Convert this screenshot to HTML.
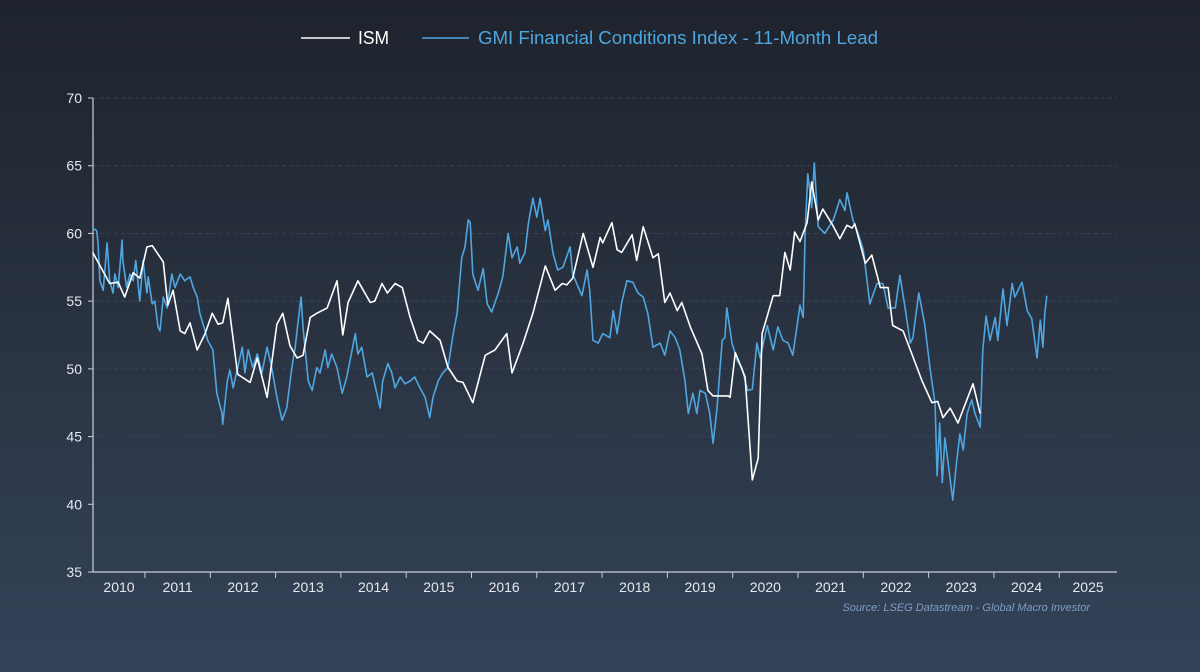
<!DOCTYPE html>
<html><head><meta charset="utf-8"><style>
html,body{margin:0;padding:0;width:1200px;height:672px;overflow:hidden;}
body{background:linear-gradient(to bottom,#1e232d 0%,#28313f 45%,#344359 100%);font-family:"Liberation Sans",sans-serif;}
svg{display:block;}
</style></head><body>
<svg id="chart" width="1200" height="672" xmlns="http://www.w3.org/2000/svg">
<g id="legend">
<g><line x1="301" y1="38" x2="350" y2="38" stroke="#ffffff" stroke-width="1.6"/><text x="358" y="44" fill="#ffffff" font-size="18" textLength="31" lengthAdjust="spacingAndGlyphs">ISM</text></g>
<g><line x1="422" y1="38" x2="469" y2="38" stroke="#4fa6e0" stroke-width="1.6"/><text x="478" y="44" fill="#4fa6e0" font-size="18" textLength="400" lengthAdjust="spacingAndGlyphs">GMI Financial Conditions Index - 11-Month Lead</text></g>
</g>
<g id="grid"></g>
<g id="axes"></g>
<g id="series"></g>
<text x="1090" y="611" text-anchor="end" fill="#7f9cc4" font-size="11" font-style="italic">Source: LSEG Datastream - Global Macro Investor</text>
</svg>
<script>
const ismDates=[2010.20,2010.46,2010.59,2010.69,2010.82,2010.92,2011.03,2011.11,2011.28,2011.35,2011.43,2011.54,2011.61,2011.69,2011.80,2011.92,2012.03,2012.12,2012.19,2012.27,2012.42,2012.61,2012.72,2012.87,2013.02,2013.11,2013.22,2013.33,2013.42,2013.53,2013.63,2013.79,2013.94,2014.03,2014.11,2014.26,2014.45,2014.52,2014.63,2014.71,2014.83,2014.94,2015.06,2015.18,2015.26,2015.36,2015.52,2015.64,2015.78,2015.87,2016.02,2016.21,2016.36,2016.54,2016.62,2016.79,2016.94,2017.13,2017.28,2017.39,2017.46,2017.55,2017.71,2017.86,2017.97,2018.01,2018.15,2018.23,2018.30,2018.46,2018.53,2018.63,2018.78,2018.86,2018.96,2019.04,2019.15,2019.22,2019.35,2019.53,2019.62,2019.70,2019.93,2019.96,2020.04,2020.19,2020.30,2020.39,2020.45,2020.62,2020.72,2020.80,2020.88,2020.95,2021.03,2021.14,2021.21,2021.31,2021.38,2021.52,2021.64,2021.75,2021.83,2021.87,2022.03,2022.13,2022.26,2022.38,2022.45,2022.61,2022.72,2022.90,2023.05,2023.14,2023.22,2023.33,2023.45,2023.68,2023.79];
const ismValues=[58.6,56.3,56.4,55.3,57.1,56.7,59.0,59.1,57.9,54.7,55.8,52.8,52.6,53.4,51.4,52.6,54.1,53.3,53.4,55.2,49.6,49.0,50.8,47.9,53.3,54.1,51.7,50.8,51.0,53.8,54.1,54.5,56.5,52.5,54.9,56.5,54.9,55.0,56.3,55.6,56.3,56.0,53.8,52.1,51.9,52.8,52.1,50.1,49.1,49.0,47.5,51.0,51.4,52.6,49.7,51.9,54.1,57.6,55.8,56.3,56.2,56.7,60.0,57.5,59.7,59.3,60.8,58.8,58.6,59.9,58.0,60.5,58.2,58.5,54.9,55.6,54.3,54.9,53.1,51.1,48.4,48.0,48.0,47.9,51.2,49.4,41.8,43.4,52.6,55.4,55.4,58.6,57.3,60.1,59.4,60.8,63.8,61.0,61.8,60.7,59.6,60.6,60.4,60.7,57.8,58.4,56.0,56.0,53.2,52.8,51.4,49.1,47.5,47.6,46.4,47.1,46.0,48.9,46.7];
const gmiDates=[2010.20,2010.26,2010.28,2010.31,2010.36,2010.42,2010.46,2010.51,2010.54,2010.59,2010.65,2010.66,2010.72,2010.77,2010.82,2010.86,2010.92,2010.97,2011.03,2011.05,2011.11,2011.15,2011.20,2011.23,2011.28,2011.34,2011.41,2011.46,2011.54,2011.61,2011.69,2011.74,2011.80,2011.84,2011.92,2011.96,2012.04,2012.10,2012.18,2012.19,2012.26,2012.30,2012.35,2012.41,2012.49,2012.53,2012.58,2012.65,2012.72,2012.79,2012.87,2012.94,2013.02,2013.10,2013.17,2013.25,2013.30,2013.34,2013.39,2013.42,2013.50,2013.56,2013.63,2013.68,2013.76,2013.80,2013.86,2013.94,2014.02,2014.09,2014.14,2014.22,2014.26,2014.32,2014.40,2014.48,2014.55,2014.60,2014.64,2014.72,2014.78,2014.83,2014.91,2014.98,2015.06,2015.13,2015.21,2015.29,2015.36,2015.41,2015.49,2015.56,2015.64,2015.72,2015.78,2015.85,2015.90,2015.95,2015.98,2016.02,2016.10,2016.18,2016.24,2016.31,2016.41,2016.48,2016.56,2016.62,2016.70,2016.74,2016.82,2016.87,2016.94,2017.00,2017.05,2017.13,2017.17,2017.25,2017.32,2017.40,2017.51,2017.55,2017.69,2017.77,2017.81,2017.86,2017.94,2018.01,2018.12,2018.17,2018.23,2018.30,2018.38,2018.47,2018.55,2018.63,2018.70,2018.78,2018.89,2018.96,2019.04,2019.12,2019.19,2019.27,2019.32,2019.39,2019.45,2019.50,2019.58,2019.65,2019.70,2019.76,2019.84,2019.88,2019.91,2019.99,2020.07,2020.14,2020.23,2020.30,2020.37,2020.42,2020.53,2020.62,2020.69,2020.77,2020.85,2020.92,2021.03,2021.08,2021.11,2021.15,2021.21,2021.25,2021.31,2021.41,2021.54,2021.64,2021.72,2021.75,2021.84,2021.92,2022.00,2022.10,2022.21,2022.30,2022.38,2022.49,2022.56,2022.64,2022.72,2022.76,2022.85,2022.94,2023.02,2023.10,2023.13,2023.17,2023.21,2023.25,2023.30,2023.37,2023.43,2023.48,2023.53,2023.59,2023.66,2023.71,2023.79,2023.83,2023.88,2023.94,2024.02,2024.06,2024.14,2024.20,2024.28,2024.32,2024.43,2024.51,2024.58,2024.66,2024.71,2024.75,2024.78,2024.81];
const gmiValues=[60.4,60.2,59.3,56.5,55.8,59.3,56.5,55.6,57.0,56.0,59.5,58.0,56.0,57.0,56.5,58.0,55.0,58.0,55.6,56.8,54.8,55.0,53.1,52.8,55.3,54.5,57.0,56.0,57.0,56.5,56.8,56.0,55.3,54.1,52.8,52.1,51.4,48.2,46.7,45.9,49.1,49.9,48.6,49.9,51.6,49.7,51.4,50.1,51.1,49.7,51.6,50.1,47.9,46.2,47.1,50.1,51.6,53.3,55.3,53.1,49.1,48.4,50.1,49.7,51.4,50.1,51.1,50.1,48.2,49.4,50.6,52.6,51.1,51.6,49.4,49.7,48.2,47.1,49.1,50.4,49.7,48.6,49.4,48.9,49.1,49.4,48.6,47.9,46.4,47.9,49.1,49.7,50.1,52.6,54.1,58.2,59.0,61.0,60.8,57.0,55.8,57.4,54.8,54.2,55.6,56.8,60.0,58.2,59.0,57.8,58.6,60.7,62.6,61.2,62.6,60.2,61.0,58.5,57.3,57.5,59.0,57.0,55.4,57.3,55.8,52.1,51.9,52.6,52.3,54.3,52.6,54.9,56.5,56.4,55.6,55.3,54.1,51.6,51.9,51.0,52.8,52.3,51.4,49.1,46.7,48.2,46.7,48.4,48.2,46.7,44.5,47.1,52.1,52.3,54.5,51.9,50.6,50.1,48.4,48.5,51.9,50.8,53.2,51.4,53.1,52.1,51.9,51.0,54.7,53.8,60.2,64.4,61.9,65.2,60.5,60.0,61.0,62.5,61.7,63.0,61.0,60.0,58.8,54.8,56.3,56.3,54.5,54.5,56.9,54.5,51.9,52.3,55.6,53.3,50.1,47.4,42.1,46.0,41.6,44.9,43.0,40.3,43.2,45.2,44.0,46.7,47.7,46.7,45.7,51.4,53.9,52.1,53.8,52.1,55.9,53.2,56.3,55.3,56.4,54.3,53.7,50.8,53.6,51.6,54.1,55.4];
const yTicks=[35,40,45,50,55,60,65,70];
const yearLabels=[2010,2011,2012,2013,2014,2015,2016,2017,2018,2019,2020,2021,2022,2023,2024,2025];

const NS='http://www.w3.org/2000/svg';
const L=93,R=1117,T=98,B=572;
const xMin=2010.204,xMax=2025.885,yMin=35,yMax=70;
const xs=d=>L+(d-xMin)/(xMax-xMin)*(R-L);
const ys=v=>B-(v-yMin)/(yMax-yMin)*(B-T);
function mk(tag,attrs,parent){const e=document.createElementNS(NS,tag);for(const k in attrs)e.setAttribute(k,attrs[k]);parent.appendChild(e);return e;}
const grid=document.getElementById('grid'),axes=document.getElementById('axes'),series=document.getElementById('series');
yTicks.forEach(v=>{
  const y=ys(v);
  if(v>yMin){const g=mk('line',{x1:L,x2:R,y1:y,y2:y,stroke:'#3f4a5b','stroke-width':0.7,'stroke-dasharray':'4,3'},grid);
  
  }
  const tk=mk('line',{x1:L-5,x2:L,y1:y,y2:y,stroke:'#c8d0dc','stroke-width':1},axes);
  
  
  const t=mk('text',{x:L-11,y:y+5,'text-anchor':'end',fill:'#e6e9ee','font-size':14},axes);
  t.textContent=v;
  
  
});
const ax=mk('path',{d:`M${L},${T} L${L},${B} L${R},${B}`,stroke:'#c8d0dc','stroke-width':1.2,fill:'none'},axes);


yearLabels.forEach(yr=>{
  if(yr>xMin){const x=xs(yr);const tk=mk('line',{x1:x,x2:x,y1:B,y2:B+6,stroke:'#c8d0dc','stroke-width':1},axes);
  
  }
  const a=Math.max(yr,xMin),b=Math.min(yr+1,xMax);
  const t=mk('text',{x:xs((a+b)/2),y:B+20,'text-anchor':'middle',fill:'#e6e9ee','font-size':14},axes);
  t.textContent=yr;
  
  
});
function line(dates,vals,color,name){
  const d=dates.map((dt,i)=>(i?'L':'M')+xs(dt).toFixed(1)+','+ys(vals[i]).toFixed(1)).join(' ');
  const p=mk('path',{d:d,stroke:color,'stroke-width':1.6,fill:'none','stroke-linejoin':'round'},series);
  
  
}
line(gmiDates,gmiValues,'#4fa6e0','gmi-line');
line(ismDates,ismValues,'#ffffff','ism-line');
</script>
</body></html>
